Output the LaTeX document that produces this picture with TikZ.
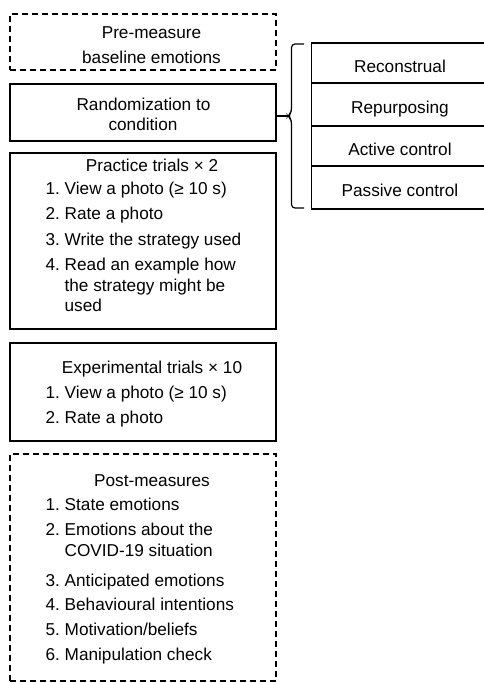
\documentclass[tikz,border=0pt]{standalone}
\usepackage{fontspec}
\setmainfont{Liberation Sans}
\frenchspacing
\begin{document}
\begin{tikzpicture}[x=1pt,y=-1pt, line width=1.2pt,
  box/.style={draw, rectangle, inner sep=0pt, outer sep=0pt, anchor=north west},
  dbox/.style={box, dash pattern=on 6pt off 4pt},
  txt/.style={font=\fontsize{17.2}{20}\selectfont\frenchspacing, inner sep=0pt, anchor=base},
  item/.style={txt, anchor=base west}]
\useasboundingbox (0,0) rectangle (484,683);
% left column boxes
\node[dbox, minimum width=266pt, minimum height=56pt] (pre) at (10,14) {};
\node[box, minimum width=266pt, minimum height=57pt] (rand) at (10,84) {};
\node[box, minimum width=266pt, minimum height=176pt] (prac) at (10,153) {};
\node[box, minimum width=266pt, minimum height=98pt] (expt) at (10,343) {};
\node[dbox, minimum width=266pt, minimum height=227pt] (post) at (10,454) {};
% right column boxes
\node[box, minimum width=180pt, minimum height=40pt] (c1) at (311.5,43) {};
\node[box, minimum width=180pt, minimum height=43pt] (c2) at (311.5,83) {};
\node[box, minimum width=180pt, minimum height=40pt] (c3) at (311.5,126) {};
\node[box, minimum width=180pt, minimum height=43pt] (c4) at (311.5,166) {};
% texts
\node[txt] (t1) at (151.5,38) {Pre-measure};
\node[txt] (t2) at (151.5,63) {baseline emotions};
\node[txt] (t3) at (143.5,110) {Randomization to};
\node[txt] (t4) at (143,130) {condition};
\node[txt] (l1) at (400,72) {Reconstrual};
\node[txt] (l2) at (400,113) {Repurposing};
\node[txt] (l3) at (400,155) {Active control};
\node[txt] (l4) at (400,196.5) {Passive control};
% practice
\node[txt] (p0) at (152,171) {Practice trials × 2};
\node[item] (p1) at (45,194) {1. View a photo (≥ 10 s)};
\node[item] (p2) at (45,219) {2. Rate a photo};
\node[item] (p3) at (45,245) {3. Write the strategy used};
\node[item] (p4) at (45,270.5) {4. Read an example how};
\node[item] (p4b) at (64,291) {the strategy might be};
\node[item] (p4c) at (64,311) {used};
% experimental
\node[txt] (e0) at (152,373.5) {Experimental trials × 10};
\node[item] (e1) at (45,398.5) {1. View a photo (≥ 10 s)};
\node[item] (e2) at (45,423.5) {2. Rate a photo};
% post
\node[txt] (q0) at (152,486.5) {Post-measures};
\node[item] (q1) at (45,510.5) {1. State emotions};
\node[item] (q2) at (45,535) {2. Emotions about the};
\node[item] (q2b) at (64,556.5) {COVID-19 situation};
\node[item] (q3) at (45,586) {3. Anticipated emotions};
\node[item] (q4) at (45,610.5) {4. Behavioural intentions};
\node[item] (q5) at (45,635) {5. Motivation/beliefs};
\node[item] (q6) at (45,660) {6. Manipulation check};
% brace
\coordinate (btop) at (304,44);
\coordinate (bbot) at (304,208);
\coordinate (btip) at (288,116);
\draw[rounded corners=3.5pt] (btop) -- (291.5,44) -- (291.5,112) -- (btip) -- (291.5,120) -- (291.5,208) -- (bbot);
\draw (rand.east |- btip) -- (btip);
\end{tikzpicture}
\end{document}
